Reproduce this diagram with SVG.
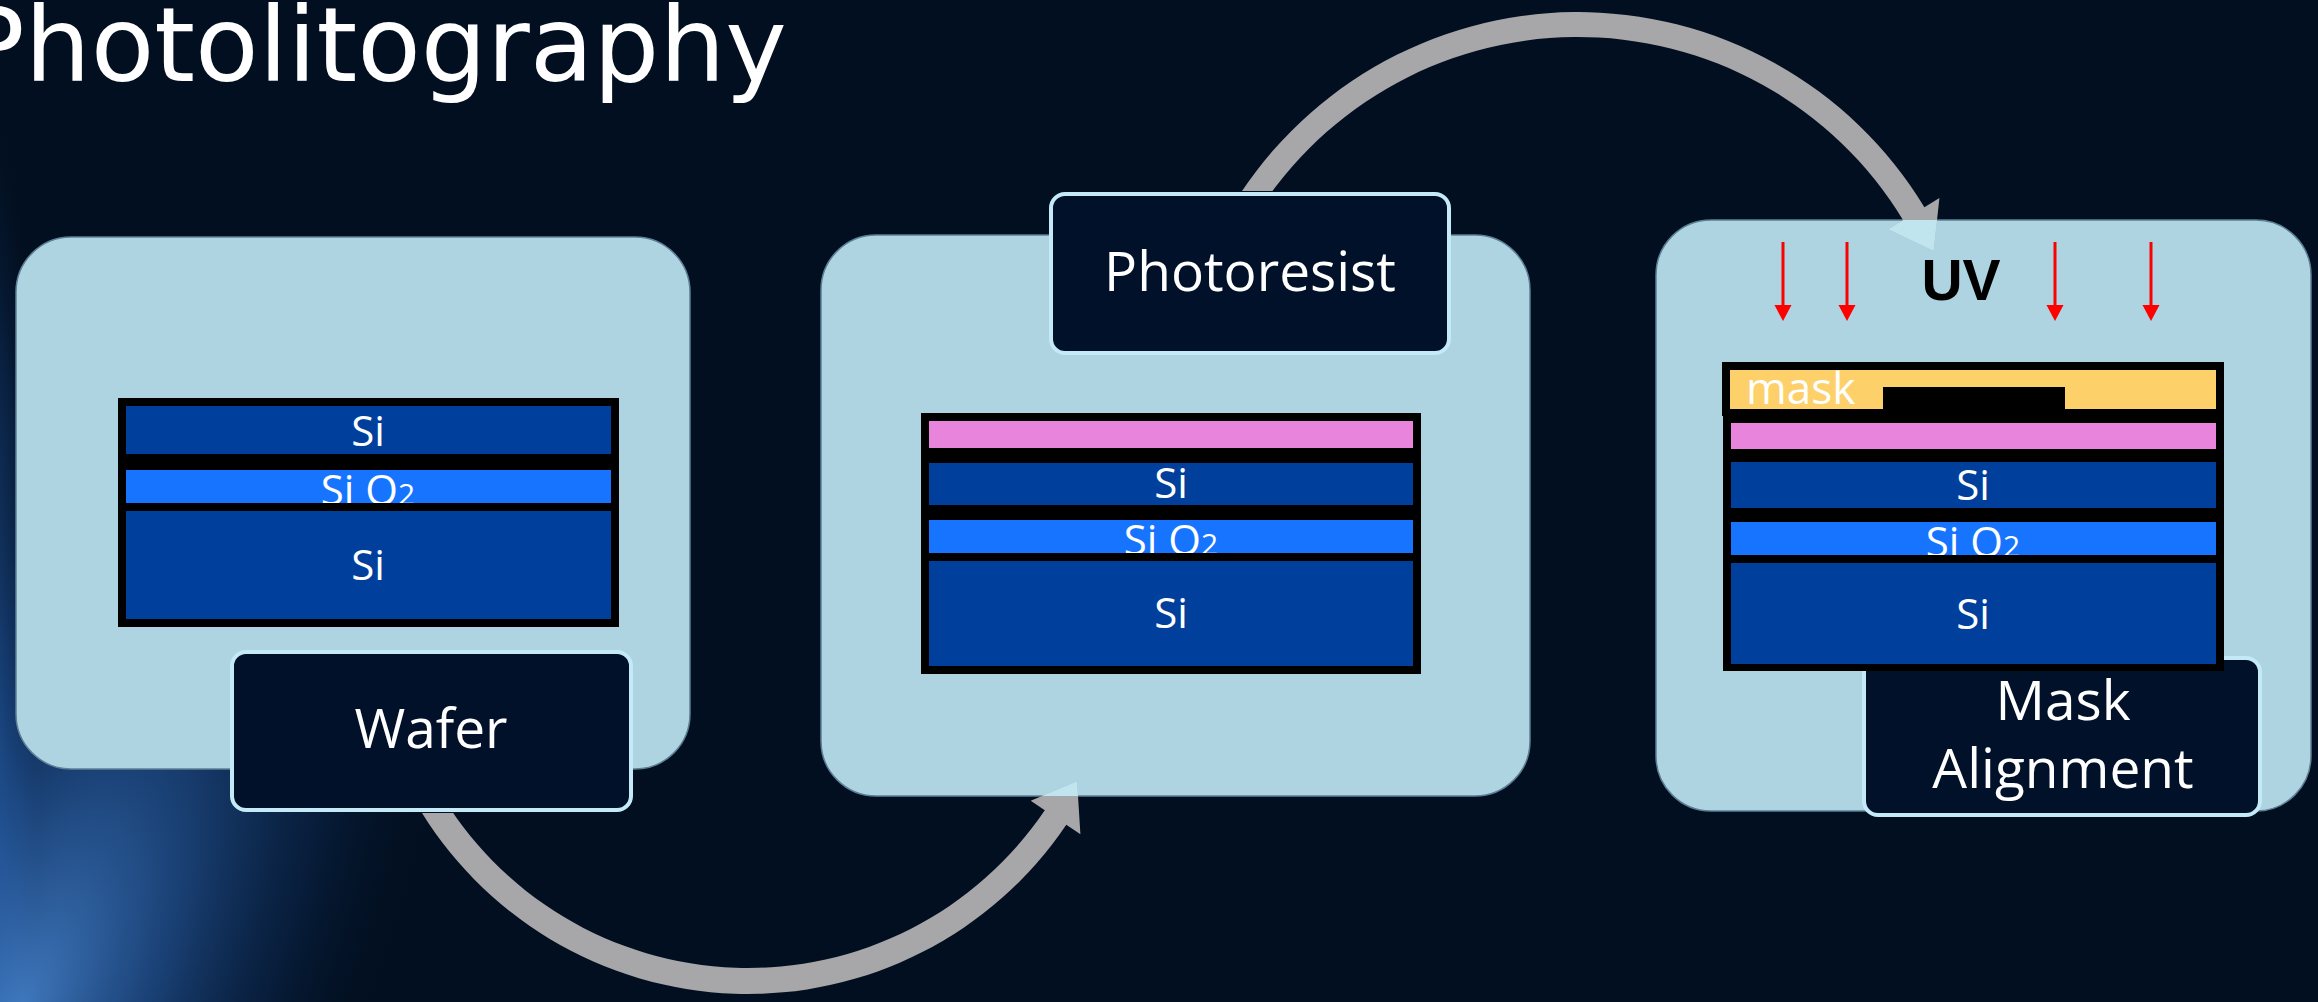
<svg xmlns="http://www.w3.org/2000/svg" width="2318" height="1002" viewBox="0 0 2318 1002">
  <defs>
    <style>
      .panel { fill: #aed4e2; stroke: #5d7f96; stroke-width: 1.5; }
      .label-box { fill: #01112a; stroke: #c3eaf6; stroke-width: 4; }
      .label { font-family: "Open Sans", "Noto Sans", sans-serif; font-size: 55px; fill: #ffffff; text-anchor: middle; }
      .layer-text { font-family: "Open Sans", "Noto Sans", sans-serif; font-size: 42px; fill: #ffffff; text-anchor: middle; }
      .sub { font-size: 30px; }
      .edge { fill: #000000; }
      .si { fill: #00409c; }
      .sio2 { fill: #1674ff; }
      .resist { fill: #e884dc; }
      .mask { fill: #fdd06a; }
      .arrow { fill: #a7a7a9; }
      .arrow-tint { fill: #c0e5ef; }
      .uv-ray { stroke: #ff0000; stroke-width: 3; marker-end: url(#rayHead); }
    </style>
    <marker id="rayHead" markerUnits="userSpaceOnUse" markerWidth="16" markerHeight="18" viewBox="0 -8 15 16" refX="0" refY="0" orient="auto">
      <path d="M0,-8 L15,0 L0,8 Z" fill="#ff0000"/>
    </marker>
    <!-- light streak in the lower left corner -->
    <radialGradient id="glow" gradientUnits="userSpaceOnUse" cx="0" cy="0" r="1" gradientTransform="translate(20 1010) rotate(-64) scale(780 330)">
      <stop offset="0" stop-color="#4a8ad8" stop-opacity="0.85"/>
      <stop offset="0.35" stop-color="#2a62ae" stop-opacity="0.6"/>
      <stop offset="0.7" stop-color="#123a72" stop-opacity="0.28"/>
      <stop offset="1" stop-color="#02101f" stop-opacity="0"/>
    </radialGradient>
    <!-- faint blue along the left border -->
    <radialGradient id="edgeGlow" gradientUnits="userSpaceOnUse" cx="0" cy="0" r="1" gradientTransform="translate(-10 720) scale(55 640)">
      <stop offset="0" stop-color="#2a64b0" stop-opacity="0.75"/>
      <stop offset="0.6" stop-color="#17427e" stop-opacity="0.35"/>
      <stop offset="1" stop-color="#02101f" stop-opacity="0"/>
    </radialGradient>
    <!-- label boxes hide the tail ends of the arrows -->
    <mask id="underLabels" maskUnits="userSpaceOnUse" x="0" y="0" width="2318" height="1002">
      <rect x="0" y="0" width="2318" height="1002" fill="#ffffff"/>
      <rect x="229" y="649" width="405" height="164" rx="15" fill="#000000"/>
      <rect x="1048" y="191" width="404" height="165" rx="15" fill="#000000"/>
    </mask>
    <clipPath id="insidePanels">
      <rect x="821" y="235" width="709" height="561" rx="55"/>
      <rect x="1656" y="220" width="655" height="591" rx="55"/>
    </clipPath>
  </defs>

  <!-- background -->
  <rect x="0" y="0" width="2318" height="1002" fill="#020f20"/>
  <rect x="0" y="0" width="2318" height="1002" fill="url(#edgeGlow)"/>
  <rect x="0" y="0" width="2318" height="1002" fill="url(#glow)"/>

  <text id="title" x="-38" y="81" font-family="DejaVu Sans, sans-serif" font-size="104" fill="#ffffff">Photolitography</text>

  <!-- step 1: wafer -->
  <g id="node-wafer">
    <rect class="panel" x="16" y="237" width="674" height="532" rx="55"/>
    <g id="stack-wafer">
      <rect class="edge" x="118" y="398" width="501" height="64"/>
      <rect class="si" x="126" y="406" width="485" height="48"/>
      <text class="layer-text" x="368" y="446">Si</text>
      <rect class="edge" x="118" y="462" width="501" height="41"/>
      <rect class="sio2" x="126" y="470" width="485" height="33"/>
      <text class="layer-text" x="368" y="505">Si O<tspan class="sub">2</tspan></text>
      <rect class="edge" x="118" y="503" width="501" height="124"/>
      <rect class="si" x="126" y="511" width="485" height="108"/>
      <text class="layer-text" x="368" y="580">Si</text>
    </g>
    <rect class="label-box" x="232" y="652" width="399" height="158" rx="14"/>
    <text class="label" x="431" y="748">Wafer</text>
  </g>

  <!-- step 2: photoresist coating -->
  <g id="node-photoresist">
    <rect class="panel" x="821" y="235" width="709" height="561" rx="55"/>
    <rect class="label-box" x="1051" y="194" width="398" height="159" rx="14"/>
    <text class="label" x="1250" y="291">Photoresist</text>
    <g id="stack-photoresist">
      <rect class="edge" x="921" y="413" width="500" height="43"/>
      <rect class="resist" x="929" y="421" width="484" height="27"/>
      <rect class="edge" x="921" y="455" width="500" height="58"/>
      <rect class="si" x="929" y="463" width="484" height="42"/>
      <text class="layer-text" x="1171" y="498">Si</text>
      <rect class="edge" x="921" y="512" width="500" height="41"/>
      <rect class="sio2" x="929" y="520" width="484" height="33"/>
      <text class="layer-text" x="1171" y="555">Si O<tspan class="sub">2</tspan></text>
      <rect class="edge" x="921" y="553" width="500" height="121"/>
      <rect class="si" x="929" y="561" width="484" height="105"/>
      <text class="layer-text" x="1171" y="628">Si</text>
    </g>
  </g>

  <!-- step 3: mask alignment and UV exposure -->
  <g id="node-mask-alignment">
    <rect class="panel" x="1656" y="220" width="655" height="591" rx="55"/>
    <rect class="label-box" x="1864" y="658" width="396" height="157" rx="14"/>
    <text class="label" x="2063" y="720">Mask</text>
    <text class="label" x="2063" y="788">Alignment</text>
    <g id="uv-rays">
      <line class="uv-ray" x1="1783" y1="242" x2="1783" y2="305"/>
      <line class="uv-ray" x1="1847" y1="242" x2="1847" y2="305"/>
      <line class="uv-ray" x1="2055" y1="242" x2="2055" y2="305"/>
      <line class="uv-ray" x1="2151" y1="242" x2="2151" y2="305"/>
    </g>
    <text x="1961" y="300" font-family="Liberation Sans, Arial, sans-serif" font-weight="bold" font-size="57" fill="#000000" text-anchor="middle">UV</text>
    <g id="stack-mask">
      <rect class="edge" x="1722" y="362" width="502" height="54"/>
      <rect class="mask" x="1730" y="370" width="486" height="39"/>
      <rect class="edge" x="1883" y="387" width="182" height="29"/>
      <text x="1746" y="404" font-family="Open Sans, Noto Sans, sans-serif" font-size="44" fill="#ffffff">mask</text>
      <rect class="edge" x="1723" y="415" width="501" height="42"/>
      <rect class="resist" x="1731" y="423" width="485" height="26"/>
      <rect class="edge" x="1723" y="454" width="501" height="62"/>
      <rect class="si" x="1731" y="462" width="485" height="46"/>
      <text class="layer-text" x="1973" y="500">Si</text>
      <rect class="edge" x="1723" y="514" width="501" height="41"/>
      <rect class="sio2" x="1731" y="522" width="485" height="33"/>
      <text class="layer-text" x="1973" y="557">Si O<tspan class="sub">2</tspan></text>
      <rect class="edge" x="1723" y="555" width="501" height="116"/>
      <rect class="si" x="1731" y="563" width="485" height="101"/>
      <text class="layer-text" x="1973" y="629">Si</text>
    </g>
  </g>

  <!-- process flow arrows -->
  <g id="connectors" mask="url(#underLabels)">
    <path id="flow-wafer-to-resist" class="arrow" d="M415.4,802 A384,384 0 0 0 1066.3,824.7 L1080.4,834.2 L1077.1,781.3 L1030.7,800.7 L1044.8,810.2 A358,358 0 0 1 438,789 Z"/>
    <path id="flow-resist-to-mask" class="arrow" d="M1227.3,214.5 A405,405 0 0 1 1924.4,207.2 L1939.4,198.1 L1933.7,251.1 L1888.1,229.2 L1903.1,220.2 A380,380 0 0 0 1248.9,227 Z"/>
    <g clip-path="url(#insidePanels)">
      <path class="arrow-tint" d="M1066.3,824.7 L1080.4,834.2 L1077.1,781.3 L1030.7,800.7 L1044.8,810.2 Z"/>
      <path class="arrow-tint" d="M1924.4,207.2 L1939.4,198.1 L1933.7,251.1 L1888.1,229.2 L1903.1,220.2 Z"/>
    </g>
  </g>
</svg>
